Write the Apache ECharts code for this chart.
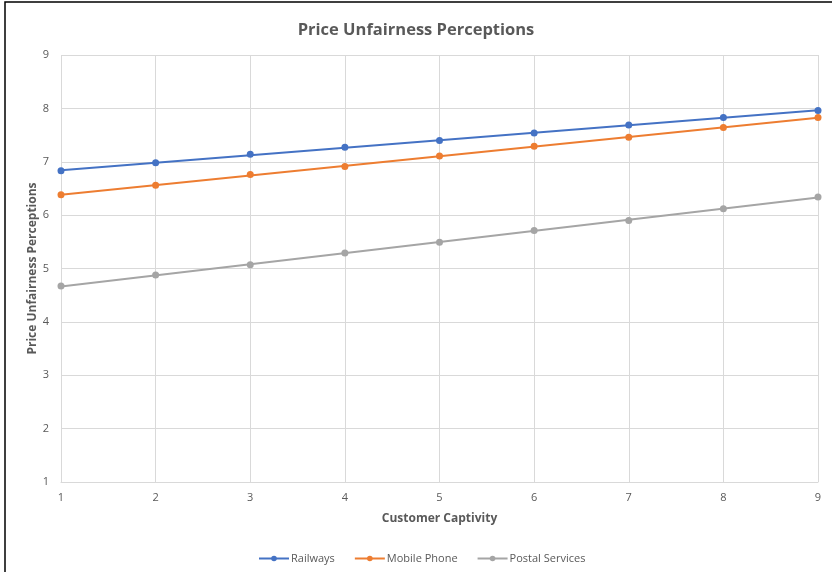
<!DOCTYPE html>
<html>
<head>
<meta charset="utf-8">
<style>
  html, body { margin: 0; padding: 0; background: #ffffff; }
  #chart { width: 832px; height: 572px; }
</style>
<script src="https://cdn.jsdelivr.net/npm/echarts@6/dist/echarts.min.js"></script>
</head>
<body>
<div id="chart"></div>
<script>
// Customer captivity levels (x) and mean perception scores per sector
const captivity = [1, 2, 3, 4, 5, 6, 7, 8, 9];
const railways = [6.83, 6.98, 7.14, 7.27, 7.40, 7.54, 7.69, 7.83, 7.96];
const mobilePhone = [6.38, 6.56, 6.76, 6.91, 7.11, 7.29, 7.46, 7.64, 7.83];
const postalServices = [4.67, 4.88, 5.07, 5.29, 5.49, 5.71, 5.90, 6.12, 6.34];
const yTicks = [1, 2, 3, 4, 5, 6, 7, 8, 9];

const colors = { railways: '#4472C4', mobile: '#ED7D31', postal: '#A5A5A5' };
const textColor = '#595959';
const gridColor = '#D9D9D9';
const fontFamily = '"Open Sans", "Noto Sans", sans-serif';

// Least-squares linear trend through the points
function trend(xs, ys) {
  const n = xs.length;
  const mx = xs.reduce((a, b) => a + b, 0) / n;
  const my = ys.reduce((a, b) => a + b, 0) / n;
  let sxy = 0, sxx = 0;
  for (let i = 0; i < n; i++) {
    sxy += (xs[i] - mx) * (ys[i] - my);
    sxx += (xs[i] - mx) * (xs[i] - mx);
  }
  const b = sxy / sxx;
  const a = my - b * mx;
  const x0 = xs[0], x1 = xs[n - 1];
  return [[x0, a + b * x0], [x1, a + b * x1]];
}

function pointSeries(name, values, color) {
  return {
    name: name,
    type: 'line',
    data: captivity.map((x, i) => [x, values[i]]),
    symbol: 'circle',
    symbolSize: 7,
    itemStyle: { color: color },
    lineStyle: { color: color, width: 2, opacity: 0 },
    z: 3
  };
}

function trendSeries(name, values, color) {
  return {
    name: name + ' trend',
    type: 'line',
    data: trend(captivity, values),
    symbol: 'none',
    lineStyle: { color: color, width: 2 },
    silent: true,
    z: 2
  };
}

const chart = echarts.init(document.getElementById('chart'));
chart.setOption({
  animation: false,
  backgroundColor: '#ffffff',
  title: {
    text: 'Price Unfairness Perceptions',
    left: 'center',
    top: 17,
    textStyle: { color: textColor, fontSize: 16.5, fontWeight: 'bold', fontFamily: fontFamily }
  },
  legend: {
    data: ['Railways', 'Mobile Phone', 'Postal Services'],
    bottom: 3,
    left: 253,
    itemWidth: 30,
    itemHeight: 7,
    itemGap: 19,
    lineStyle: { width: 2, opacity: 1 },
    textStyle: { color: textColor, fontSize: 11, fontFamily: fontFamily, padding: [0, 0, 0, -3] }
  },
  grid: { left: 61, right: 14, top: 55, bottom: 90, containLabel: false },
  xAxis: {
    type: 'value',
    min: 1,
    max: 9,
    interval: 1,
    name: 'Customer Captivity',
    nameLocation: 'middle',
    nameGap: 31,
    nameTextStyle: { color: textColor, fontSize: 12, fontWeight: 'bold', fontFamily: fontFamily },
    axisLine: { show: true, lineStyle: { color: gridColor, width: 1 } },
    axisTick: { show: false },
    axisLabel: { color: textColor, fontSize: 11, fontFamily: fontFamily, margin: 10 },
    splitLine: { show: true, lineStyle: { color: gridColor, width: 1 } }
  },
  yAxis: {
    type: 'value',
    min: yTicks[0],
    max: yTicks[yTicks.length - 1],
    interval: 1,
    name: 'Price Unfairness Perceptions',
    nameLocation: 'middle',
    nameGap: 22,
    nameMoveOverlap: false,
    nameTextStyle: { color: textColor, fontSize: 12, fontWeight: 'bold', fontFamily: fontFamily },
    axisLine: { show: false },
    axisTick: { show: false },
    axisLabel: { color: textColor, fontSize: 11, fontFamily: fontFamily, margin: 12 },
    splitLine: { show: true, lineStyle: { color: gridColor, width: 1 } }
  },
  graphic: [{
    type: 'rect',
    shape: { x: 5, y: 2, width: 900, height: 700 },
    style: { fill: 'none', stroke: '#000000', lineWidth: 1.5 },
    silent: true,
    z: 100
  }],
  series: [
    trendSeries('Railways', railways, colors.railways),
    trendSeries('Mobile Phone', mobilePhone, colors.mobile),
    trendSeries('Postal Services', postalServices, colors.postal),
    pointSeries('Railways', railways, colors.railways),
    pointSeries('Mobile Phone', mobilePhone, colors.mobile),
    pointSeries('Postal Services', postalServices, colors.postal)
  ]
});
</script>
</body>
</html>
